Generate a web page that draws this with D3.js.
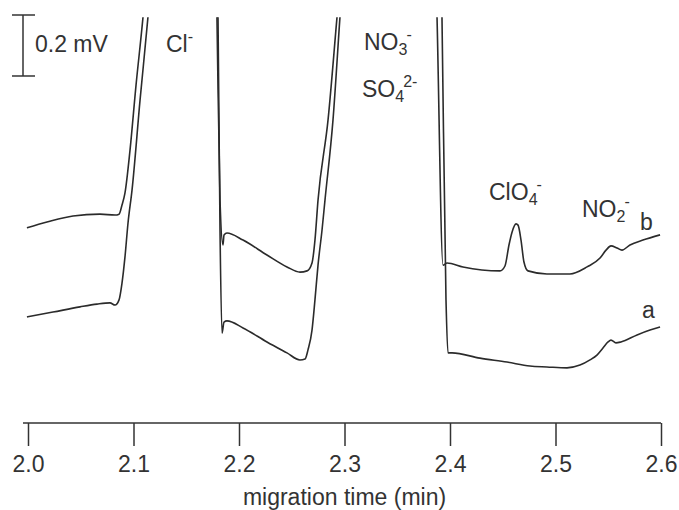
<!DOCTYPE html>
<html>
<head>
<meta charset="utf-8">
<script src="https://cdn.jsdelivr.net/npm/d3@7"></script>
<style>
  body { margin: 0; background: #fff; }
  svg text { font-family: "Liberation Sans", Arial, sans-serif; fill: #333; }
</style>
</head>
<body>
<div id="chart"></div>
<script>
// Electropherogram, traces (time in min, signal in mV, arbitrary offset)
const timeTicks = [2.0, 2.1, 2.2, 2.3, 2.4, 2.5, 2.6];

// trace a (blank)
const timeA = [1.999, 2.0237, 2.0493, 2.0654, 2.0777, 2.0825, 2.0863, 2.0891, 2.0919, 2.0948, 2.0986, 2.1062, 2.1137,
  2.16, 2.1801, 2.182, 2.1839, 2.1858, 2.1886, 2.2038, 2.2265, 2.2455, 2.2578, 2.2626, 2.2654, 2.2692, 2.272,
  2.2749, 2.2787, 2.2815, 2.2891, 2.2957, 2.37, 2.3924, 2.3962, 2.3981, 2.4019, 2.4284, 2.454, 2.4758, 2.4919,
  2.5109, 2.5232, 2.5327, 2.5393, 2.545, 2.5498, 2.5526, 2.5573, 2.5621, 2.5773, 2.5896, 2.5991];
const signalA = [0.174, 0.190, 0.207, 0.216, 0.220, 0.213, 0.230, 0.285, 0.370, 0.482, 0.590, 0.885, 1.157,
  4.0, 1.157, 0.459, 0.121, 0.157, 0.161, 0.138, 0.092, 0.056, 0.033, 0.036, 0.066, 0.131, 0.230,
  0.344, 0.459, 0.557, 0.820, 1.157, 4.0, 1.157, 0.230, 0.056, 0.056, 0.039, 0.026, 0.013, 0.010,
  0.007, 0.016, 0.033, 0.049, 0.072, 0.092, 0.098, 0.089, 0.092, 0.115, 0.131, 0.141];

// trace b (spiked with perchlorate)
const timeB = [1.999, 2.018, 2.0427, 2.0682, 2.0825, 2.0863, 2.0891, 2.0919, 2.0967, 2.1024, 2.109,
  2.155, 2.1791, 2.182, 2.1848, 2.1858, 2.1886, 2.2038, 2.2265, 2.2455, 2.2578, 2.2645, 2.2692, 2.272,
  2.2749, 2.2844, 2.2929, 2.365, 2.3877, 2.3934, 2.3972, 2.4123, 2.4474, 2.4521, 2.4559, 2.4588, 2.4626,
  2.4645, 2.4673, 2.4701, 2.4739, 2.4919, 2.5137, 2.5299, 2.5422, 2.5479, 2.5526, 2.5583, 2.563, 2.5706,
  2.5829, 2.5991];
const signalB = [0.466, 0.485, 0.505, 0.511, 0.508, 0.511, 0.541, 0.580, 0.721, 0.934, 1.157,
  4.0, 1.157, 0.557, 0.410, 0.443, 0.449, 0.426, 0.377, 0.338, 0.321, 0.325, 0.351, 0.426,
  0.557, 0.820, 1.157, 4.0, 1.157, 0.344, 0.351, 0.338, 0.325, 0.341, 0.410, 0.452, 0.479,
  0.475, 0.426, 0.354, 0.325, 0.315, 0.315, 0.338, 0.367, 0.393, 0.407, 0.400, 0.393, 0.410,
  0.426, 0.443];

const scaleBarMv = 0.2;

const width = 679, height = 510;
const fontSize = 23;
const svg = d3.select("#chart").append("svg")
  .attr("width", width)
  .attr("height", height);

const x = d3.scaleLinear().domain([2.0, 2.6]).range([28, 661]);
const y = d3.scaleLinear().domain([0, 1.164]).range([370, 15]);

// clip everything above the frame top so the big peaks run off-scale
svg.append("clipPath").attr("id", "clip")
  .append("rect")
  .attr("x", 0).attr("y", y(1.157))
  .attr("width", width).attr("height", height);

const line = d3.line()
  .x(d => x(d[0]))
  .y(d => y(d[1]))
  .curve(d3.curveMonotoneX);

const traces = [d3.zip(timeA, signalA), d3.zip(timeB, signalB)];

svg.append("g").attr("clip-path", "url(#clip)")
  .selectAll("path")
  .data(traces)
  .enter()
  .append("path")
  .attr("d", line)
  .attr("fill", "none")
  .attr("stroke", "#2b2b2b")
  .attr("stroke-width", 1.6)
  .attr("stroke-linejoin", "round");

// x axis
const axisY = 423;
const xAxis = d3.axisBottom(x)
  .tickValues(timeTicks)
  .tickFormat(d3.format(".1f"))
  .tickSize(23)
  .tickSizeOuter(0);

const gx = svg.append("g")
  .attr("transform", `translate(0,${axisY})`)
  .call(xAxis);
gx.select(".domain").remove();
gx.append("line")
  .attr("x1", x(2.0) - 5).attr("x2", x(2.6))
  .attr("stroke", "#333").attr("stroke-width", 1.5);
gx.selectAll(".tick line").attr("stroke", "#333").attr("stroke-width", 1.5);
gx.selectAll(".tick text")
  .attr("y", 49).attr("dy", null)
  .attr("font-size", fontSize)
  .attr("font-family", "Liberation Sans, Arial, sans-serif")
  .attr("fill", "#333");

svg.append("text")
  .attr("x", (x(2.0) + x(2.6)) / 2)
  .attr("y", 505)
  .attr("text-anchor", "middle")
  .attr("font-size", fontSize)
  .text("migration time (min)");

// scale bar 0.2 mV
const sbTop = y.domain()[1], sbBot = sbTop - scaleBarMv;
const sb = svg.append("g").attr("stroke", "#333").attr("stroke-width", 1.5);
sb.append("line").attr("x1", 23).attr("x2", 23).attr("y1", y(sbTop)).attr("y2", y(sbBot));
sb.append("line").attr("x1", 12).attr("x2", 35).attr("y1", y(sbTop)).attr("y2", y(sbTop));
sb.append("line").attr("x1", 12).attr("x2", 35).attr("y1", y(sbBot)).attr("y2", y(sbBot));
svg.append("text").attr("x", 35).attr("y", 52).attr("font-size", fontSize).text("0.2 mV");

// peak labels: [base, sub, sup, x, baseline]
const labels = [
  ["Cl", "", "-", 166, 52],
  ["NO", "3", "-", 364, 50],
  ["SO", "4", "2-", 362, 97],
  ["ClO", "4", "-", 489, 200],
  ["NO", "2", "-", 582, 217],
  ["b", "", "", 640, 230],
  ["a", "", "", 642, 318]
];

labels.forEach(([base, sub, sup, lx, ly]) => {
  const t = svg.append("text").attr("x", lx).attr("y", ly).attr("font-size", fontSize);
  t.append("tspan").text(base);
  if (sub) t.append("tspan").attr("dy", 5).attr("font-size", 16).text(sub);
  if (sup) t.append("tspan").attr("dx", sub ? -1 : 0).attr("dy", sub ? -15 : -10).attr("font-size", 16).text(sup);
});
</script>
</body>
</html>
